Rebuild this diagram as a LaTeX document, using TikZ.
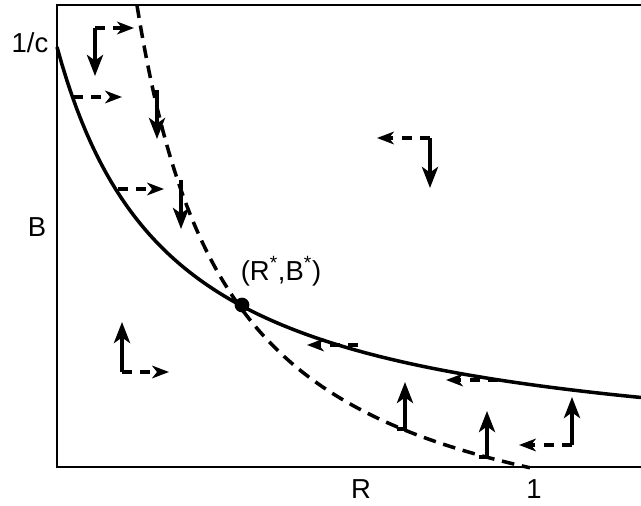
\documentclass[tikz,border=0pt]{standalone}
\usepackage{fontspec}
\setmainfont{Liberation Sans}
\usetikzlibrary{arrows.meta}

\begin{document}
\begin{tikzpicture}[
    x=0.025cm, y=-0.025cm, % work in pixel units, y pointing down
    frame/.style={line width=1.1pt},
    solidcurve/.style={line width=2.5pt},
    dashcurve/.style={line width=2.5pt, dash pattern=on 9pt off 5.5pt},
    vflow/.style={line width=2.5pt, -{Stealth[length=15pt, width=11.5pt, inset=4pt]}},
    hflow/.style={line width=2.5pt, dash pattern=on 7pt off 6pt, -{Stealth[length=12pt, width=9pt, inset=3.5pt]}},
    lbl/.style={font=\fontsize{19.5}{23}\selectfont, inner sep=0pt},
    dot/.style={fill=black, circle, inner sep=0pt, minimum size=10.5pt}
]
\useasboundingbox (0,0) rectangle (641,506);

% Frame (no right edge)
\draw[frame] (641,5) -- (57,5) -- (57,467) -- (641,467);

% Axis labels
\node[lbl] (onec) at (30,43) {1/c};
\node[lbl] (blab) at (37,227) {B};
\node[lbl] (rlab) at (361,489) {R};
\node[lbl] (one)  at (534,489) {1};

% Nullclines
\draw[solidcurve] plot[domain=0:584, samples=120] ({57+\x},{466-419/(1+0.008755*\x)});
\draw[dashcurve] plot[domain=137:530, samples=120] (\x,{576-525/(\x-45)*100});

% Equilibrium
\node[dot] (eq) at (242,305) {};
\node[lbl] (eqlab) at (281,271) {(R\textsuperscript{*},B\textsuperscript{*})};

% Corner arrows in the regions
\coordinate (a0) at (95,28);
\coordinate (a1) at (95,76);
\coordinate (a2) at (134,28);
\draw[vflow] (a0) -- (a1);
\draw[hflow] (a0) -- (a2);

\coordinate (f0) at (430,138);
\coordinate (f1) at (430,188);
\coordinate (f2) at (377,138);
\draw[vflow] (f0) -- (f1);
\draw[hflow] (f0) -- (f2);

\coordinate (g0) at (122,372);
\coordinate (g1) at (122,322);
\coordinate (g2) at (169,372);
\draw[vflow] (g0) -- (g1);
\draw[hflow] (g0) -- (g2);

\coordinate (l0) at (572,445);
\coordinate (l1) at (572,397);
\coordinate (l2) at (519,445);
\draw[vflow] (l0) -- (l1);
\draw[hflow] (l0) -- (l2);

% Horizontal arrows starting on the solid curve
\coordinate (b0) at (73,97);
\coordinate (b1) at (122,97);
\draw[hflow] (b0) -- (b1);
\coordinate (d0) at (118,189);
\coordinate (d1) at (164,189);
\draw[hflow] (d0) -- (d1);
\coordinate (h0) at (358,345);
\coordinate (h1) at (307,345);
\draw[hflow] (h0) -- (h1);
\coordinate (i0) at (498,380);
\coordinate (i1) at (446,380);
\draw[hflow] (i0) -- (i1);

% Vertical arrows starting on the dashed curve
\coordinate (c0) at (157,90);
\coordinate (c1) at (157,139);
\draw[vflow] (c0) -- (c1);
\coordinate (e0) at (181,180);
\coordinate (e1) at (181,229);
\draw[vflow] (e0) -- (e1);
\coordinate (j0) at (397,429);
\coordinate (j1) at (405,382);
\draw[vflow] (j0) -| (j1);
\coordinate (k0) at (479,457);
\coordinate (k1) at (487,411);
\draw[vflow] (k0) -| (k1);

\end{tikzpicture}
\end{document}
